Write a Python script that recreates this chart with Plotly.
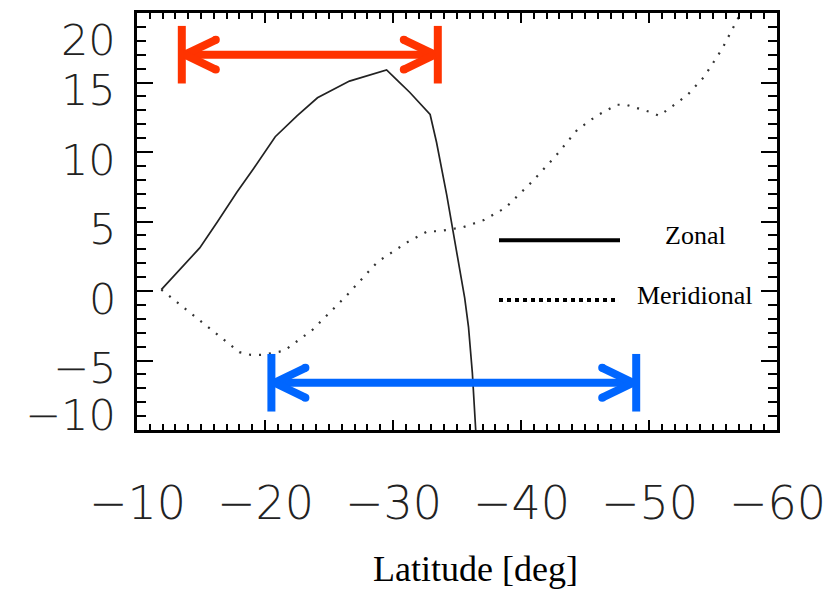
import plotly.graph_objects as go

# ---------------- data ----------------
zonal_lat = [-11.9, -13.4, -14.9, -16.3, -17.8, -19.1, -20.8, -22.5, -24.1, -26.6,
             -29.5, -30.4, -31.3, -32.9, -33.4, -34.2, -34.7, -35.6, -35.9, -36.2, -36.5]
zonal_wind = [0.1, 1.6, 3.1, 5.0, 7.1, 8.8, 11.1, 12.6, 13.9, 15.1,
              15.9, 15.1, 14.3, 12.7, 10.7, 6.9, 4.3, -0.5, -2.6, -5.9, -10.6]

merid_lat = [-11.9, -15.2, -18.0, -18.9, -19.8, -21.5, -23.7, -26.3, -28.8, -31.1,
             -32.7, -33.6, -35.5, -37.1, -38.8, -40.9, -42.7, -44.4, -45.9, -47.5,
             -48.2, -50.0, -50.8, -53.0, -54.3, -55.7, -56.6, -57.4]
merid_wind = [0.1, -2.3, -4.4, -4.6, -4.6, -4.3, -2.8, -0.4, 2.1, 3.5,
              4.3, 4.3, 4.6, 5.1, 6.0, 7.9, 9.7, 11.6, 12.6, 13.4,
              13.4, 12.9, 12.6, 14.1, 15.4, 17.4, 19.0, 20.4]

x_ticks = [-10, -20, -30, -40, -50, -60]
y_ticks = [-10, -5, 0, 5, 10, 15, 20]
series_names = ["Zonal", "Meridional"]
x_title = "Latitude [deg]"

red_span = [-13.5, -33.5]     # latitude span of the red arrow
red_level = 17.0
blue_span = [-20.5, -49.0]    # latitude span of the blue arrow
blue_level = -6.6

# ---------------- layout geometry ----------------
W, H = 838, 589
ML, MR, MT, MB = 137, 61, 10, 159
XR = [-10, -60]
YR = [-10, 20]
pw, ph = W - ML - MR, H - MT - MB
sx = pw / abs(XR[1] - XR[0])   # px per degree
sy = ph / (YR[1] - YR[0])      # px per unit

RED = "#FF3300"
BLUE = "#0066FF"
xtick_font = dict(family="DejaVu Sans", size=46, color="#222222", weight=200)
ytick_font = dict(family="DejaVu Sans", size=43, color="#222222", weight=200)
serif = "Liberation Serif, Times New Roman, serif"

fig = go.Figure()
fig.add_trace(go.Scatter(x=zonal_lat, y=zonal_wind, mode="lines", name=series_names[0],
                         line=dict(color="#222222", width=1.7), hoverinfo="skip"))
fig.add_trace(go.Scatter(x=merid_lat, y=merid_wind, mode="lines", name=series_names[1],
                         line=dict(color="#333333", width=2.2, dash="2px,8px"), hoverinfo="skip"))

shapes = []
cap_x, cap_y = [], []


def add_arrow(span, level, color):
    a, b = span
    half_bar = 29 / sy
    head_dx = 34 / sx
    head_dy = 15 / sy
    lw = 8
    shapes.append(dict(type="line", x0=a, x1=b, y0=level, y1=level,
                       line=dict(color=color, width=lw)))
    for xe in (a, b):
        shapes.append(dict(type="line", x0=xe, x1=xe, y0=level - half_bar, y1=level + half_bar,
                           line=dict(color=color, width=lw)))
    # chevrons: a is the left end (pointing left), b the right end (pointing right)
    for xe, direction in ((a, -1), (b, 1)):
        tip = xe + direction * (3 / sx)
        back = xe + direction * head_dx
        for sgn in (1, -1):
            shapes.append(dict(type="line", x0=tip, x1=back, y0=level, y1=level + sgn * head_dy,
                               line=dict(color=color, width=lw)))
            cap_x.append(back)
            cap_y.append(level + sgn * head_dy)


add_arrow(red_span, red_level, RED)
n_red = len(cap_x)
add_arrow(blue_span, blue_level, BLUE)

fig.add_trace(go.Scatter(x=cap_x, y=cap_y, mode="markers", hoverinfo="skip", showlegend=False,
                         marker=dict(size=8, color=[RED] * n_red + [BLUE] * (len(cap_x) - n_red),
                                     line=dict(width=0))))


def px_to_x(px):
    return XR[0] + (px - ML) / sx * (-1 if XR[1] < XR[0] else 1)


def px_to_y(py):
    return YR[1] - (py - MT) / sy


# legend drawn in IDL style
shapes.append(dict(type="line", x0=px_to_x(499), x1=px_to_x(620), y0=px_to_y(239), y1=px_to_y(239),
                   line=dict(color="black", width=4)))
shapes.append(dict(type="line", x0=px_to_x(499), x1=px_to_x(618), y0=px_to_y(299), y1=px_to_y(299),
                   line=dict(color="black", width=4, dash="4px,4px")))

annotations = []
annotations.append(dict(x=px_to_x(695), y=px_to_y(234), text=series_names[0], showarrow=False,
                        xanchor="center", yanchor="middle",
                        font=dict(family=serif, size=26, color="black")))
annotations.append(dict(x=px_to_x(695), y=px_to_y(295), text=series_names[1], showarrow=False,
                        xanchor="center", yanchor="middle",
                        font=dict(family=serif, size=26, color="black")))

# tick labels (IDL-like placement: shifted down, clamped inside the axis range)
for v in y_ticks:
    yl = min(max(v - 8 / sy, YR[0] + 15 / sy), YR[1] - 27 / sy)
    annotations.append(dict(x=0, xref="paper", xanchor="right", xshift=-19, y=yl, yref="y",
                            yanchor="middle", text=("\u2212" + str(abs(v))) if v < 0 else str(v),
                            showarrow=False, font=ytick_font))
for v in x_ticks:
    annotations.append(dict(x=v, xref="x", xanchor="center", y=0, yref="paper", yanchor="middle",
                            yshift=-73, text=("\u2212" + str(abs(v))) if v < 0 else str(v),
                            showarrow=False, font=xtick_font))

annotations.append(dict(x=(475 - ML) / pw, xref="paper", y=0, yref="paper", yanchor="middle",
                        yshift=-139, text=x_title, showarrow=False,
                        font=dict(family=serif, size=36, color="black")))

fig.update_layout(
    width=W, height=H,
    margin=dict(l=ML, r=MR, t=MT, b=MB, pad=0),
    paper_bgcolor="white", plot_bgcolor="white",
    showlegend=False,
    shapes=shapes, annotations=annotations,
)
fig.update_xaxes(range=XR, tickvals=x_ticks, showticklabels=False, ticks="inside", ticklen=10,
                 tickwidth=2, tickcolor="black", showline=True, linewidth=2.5, linecolor="black",
                 mirror="ticks", showgrid=False, zeroline=False,
                 minor=dict(dtick=1, tick0=0, ticks="inside", ticklen=6, tickwidth=1.5,
                            tickcolor="black", showgrid=False))
fig.update_yaxes(range=YR, tickvals=y_ticks, showticklabels=False, ticks="inside", ticklen=16,
                 tickwidth=2, tickcolor="black", showline=True, linewidth=2.5, linecolor="black",
                 mirror="ticks", showgrid=False, zeroline=False,
                 minor=dict(dtick=1, tick0=0, ticks="inside", ticklen=9, tickwidth=1.5,
                            tickcolor="black", showgrid=False))

fig.write_html("out.html")
